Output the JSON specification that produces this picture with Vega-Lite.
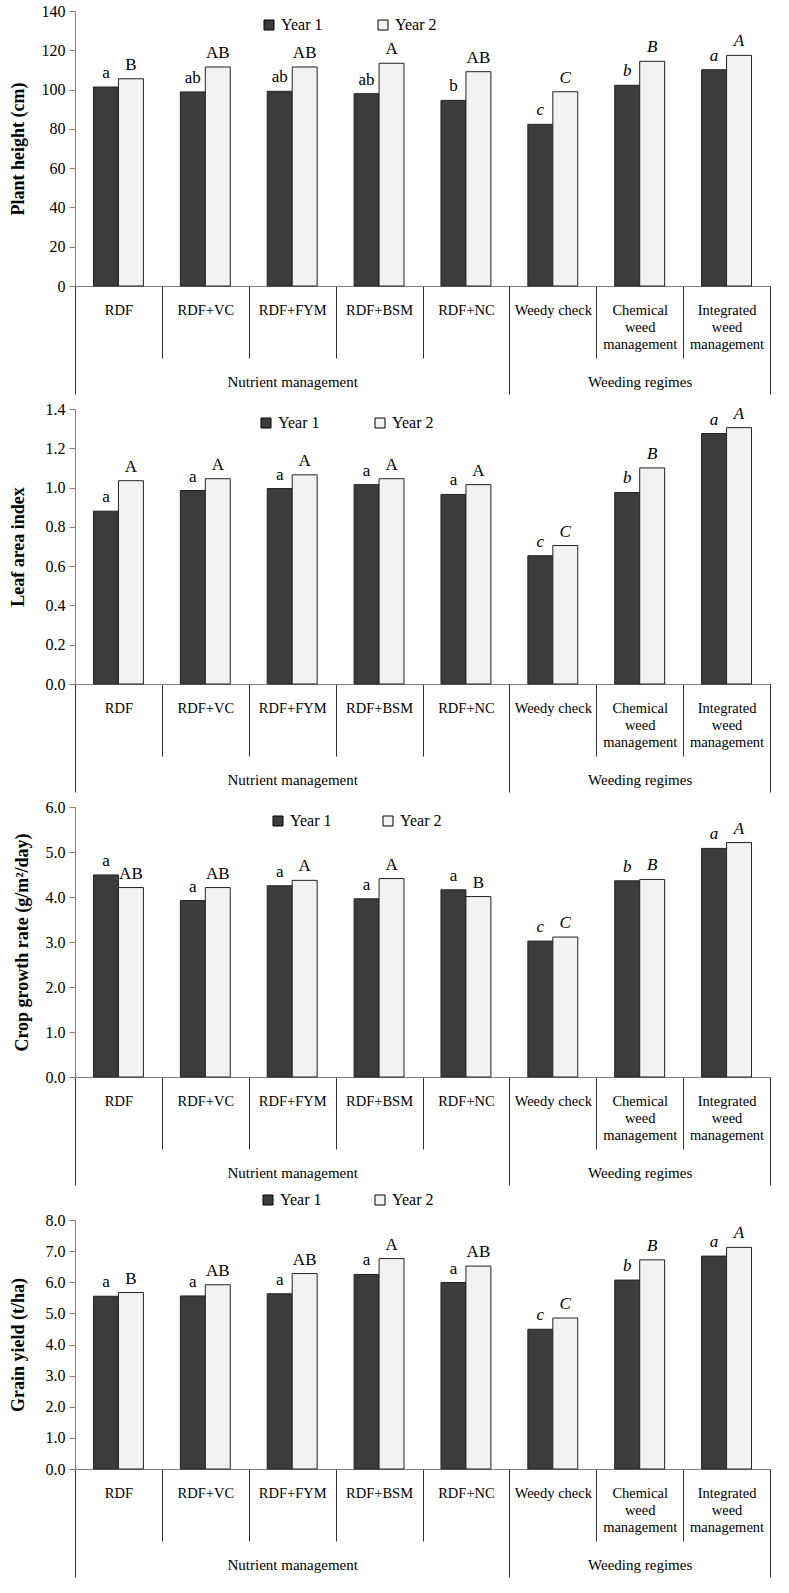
{
  "$schema": "https://vega.github.io/schema/vega-lite/v6.json",
  "background": "white",
  "padding": {"left": 9, "top": 3, "right": 8, "bottom": 4},
  "spacing": 6,
  "config": {
    "font": "Liberation Serif",
    "view": {"stroke": null},
    "axis": {"grid": false, "labelFont": "Liberation Serif", "titleFont": "Liberation Serif", "labelColor": "black", "titleColor": "black", "domainColor": "#808080", "tickColor": "#808080", "labelFontSize": 16},
    "legend": {"labelFont": "Liberation Serif", "labelFontSize": 16, "labelColor": "black"},
    "text": {"font": "Liberation Serif"}
  },
  "resolve": {"scale": {"fill": "independent"}, "legend": {"fill": "independent"}},
  "datasets": {
    "main": [
      {"panel": "PH", "category": "RDF", "group": "Nutrient management", "year": "Year 1", "value": 101.3, "letter": "a"},
      {"panel": "PH", "category": "RDF", "group": "Nutrient management", "year": "Year 2", "value": 105.5, "letter": "B"},
      {"panel": "PH", "category": "RDF+VC", "group": "Nutrient management", "year": "Year 1", "value": 98.8, "letter": "ab"},
      {"panel": "PH", "category": "RDF+VC", "group": "Nutrient management", "year": "Year 2", "value": 111.5, "letter": "AB"},
      {"panel": "PH", "category": "RDF+FYM", "group": "Nutrient management", "year": "Year 1", "value": 99.1, "letter": "ab"},
      {"panel": "PH", "category": "RDF+FYM", "group": "Nutrient management", "year": "Year 2", "value": 111.5, "letter": "AB"},
      {"panel": "PH", "category": "RDF+BSM", "group": "Nutrient management", "year": "Year 1", "value": 97.9, "letter": "ab"},
      {"panel": "PH", "category": "RDF+BSM", "group": "Nutrient management", "year": "Year 2", "value": 113.4, "letter": "A"},
      {"panel": "PH", "category": "RDF+NC", "group": "Nutrient management", "year": "Year 1", "value": 94.5, "letter": "b"},
      {"panel": "PH", "category": "RDF+NC", "group": "Nutrient management", "year": "Year 2", "value": 109.1, "letter": "AB"},
      {"panel": "PH", "category": "Weedy check", "group": "Weeding regimes", "year": "Year 1", "value": 82.3, "letter": "c"},
      {"panel": "PH", "category": "Weedy check", "group": "Weeding regimes", "year": "Year 2", "value": 98.9, "letter": "C"},
      {"panel": "PH", "category": "Chemical weed management", "group": "Weeding regimes", "year": "Year 1", "value": 102.2, "letter": "b"},
      {"panel": "PH", "category": "Chemical weed management", "group": "Weeding regimes", "year": "Year 2", "value": 114.4, "letter": "B"},
      {"panel": "PH", "category": "Integrated weed management", "group": "Weeding regimes", "year": "Year 1", "value": 110.1, "letter": "a"},
      {"panel": "PH", "category": "Integrated weed management", "group": "Weeding regimes", "year": "Year 2", "value": 117.4, "letter": "A"},

      {"panel": "LAI", "category": "RDF", "group": "Nutrient management", "year": "Year 1", "value": 0.88, "letter": "a"},
      {"panel": "LAI", "category": "RDF", "group": "Nutrient management", "year": "Year 2", "value": 1.035, "letter": "A"},
      {"panel": "LAI", "category": "RDF+VC", "group": "Nutrient management", "year": "Year 1", "value": 0.985, "letter": "a"},
      {"panel": "LAI", "category": "RDF+VC", "group": "Nutrient management", "year": "Year 2", "value": 1.045, "letter": "A"},
      {"panel": "LAI", "category": "RDF+FYM", "group": "Nutrient management", "year": "Year 1", "value": 0.995, "letter": "a"},
      {"panel": "LAI", "category": "RDF+FYM", "group": "Nutrient management", "year": "Year 2", "value": 1.065, "letter": "A"},
      {"panel": "LAI", "category": "RDF+BSM", "group": "Nutrient management", "year": "Year 1", "value": 1.015, "letter": "a"},
      {"panel": "LAI", "category": "RDF+BSM", "group": "Nutrient management", "year": "Year 2", "value": 1.045, "letter": "A"},
      {"panel": "LAI", "category": "RDF+NC", "group": "Nutrient management", "year": "Year 1", "value": 0.965, "letter": "a"},
      {"panel": "LAI", "category": "RDF+NC", "group": "Nutrient management", "year": "Year 2", "value": 1.015, "letter": "A"},
      {"panel": "LAI", "category": "Weedy check", "group": "Weeding regimes", "year": "Year 1", "value": 0.653, "letter": "c"},
      {"panel": "LAI", "category": "Weedy check", "group": "Weeding regimes", "year": "Year 2", "value": 0.705, "letter": "C"},
      {"panel": "LAI", "category": "Chemical weed management", "group": "Weeding regimes", "year": "Year 1", "value": 0.975, "letter": "b"},
      {"panel": "LAI", "category": "Chemical weed management", "group": "Weeding regimes", "year": "Year 2", "value": 1.1, "letter": "B"},
      {"panel": "LAI", "category": "Integrated weed management", "group": "Weeding regimes", "year": "Year 1", "value": 1.275, "letter": "a"},
      {"panel": "LAI", "category": "Integrated weed management", "group": "Weeding regimes", "year": "Year 2", "value": 1.305, "letter": "A"},

      {"panel": "CGR", "category": "RDF", "group": "Nutrient management", "year": "Year 1", "value": 4.49, "letter": "a"},
      {"panel": "CGR", "category": "RDF", "group": "Nutrient management", "year": "Year 2", "value": 4.21, "letter": "AB"},
      {"panel": "CGR", "category": "RDF+VC", "group": "Nutrient management", "year": "Year 1", "value": 3.92, "letter": "a"},
      {"panel": "CGR", "category": "RDF+VC", "group": "Nutrient management", "year": "Year 2", "value": 4.21, "letter": "AB"},
      {"panel": "CGR", "category": "RDF+FYM", "group": "Nutrient management", "year": "Year 1", "value": 4.25, "letter": "a"},
      {"panel": "CGR", "category": "RDF+FYM", "group": "Nutrient management", "year": "Year 2", "value": 4.37, "letter": "A"},
      {"panel": "CGR", "category": "RDF+BSM", "group": "Nutrient management", "year": "Year 1", "value": 3.96, "letter": "a"},
      {"panel": "CGR", "category": "RDF+BSM", "group": "Nutrient management", "year": "Year 2", "value": 4.41, "letter": "A"},
      {"panel": "CGR", "category": "RDF+NC", "group": "Nutrient management", "year": "Year 1", "value": 4.16, "letter": "a"},
      {"panel": "CGR", "category": "RDF+NC", "group": "Nutrient management", "year": "Year 2", "value": 4.01, "letter": "B"},
      {"panel": "CGR", "category": "Weedy check", "group": "Weeding regimes", "year": "Year 1", "value": 3.02, "letter": "c"},
      {"panel": "CGR", "category": "Weedy check", "group": "Weeding regimes", "year": "Year 2", "value": 3.11, "letter": "C"},
      {"panel": "CGR", "category": "Chemical weed management", "group": "Weeding regimes", "year": "Year 1", "value": 4.36, "letter": "b"},
      {"panel": "CGR", "category": "Chemical weed management", "group": "Weeding regimes", "year": "Year 2", "value": 4.39, "letter": "B"},
      {"panel": "CGR", "category": "Integrated weed management", "group": "Weeding regimes", "year": "Year 1", "value": 5.08, "letter": "a"},
      {"panel": "CGR", "category": "Integrated weed management", "group": "Weeding regimes", "year": "Year 2", "value": 5.21, "letter": "A"},

      {"panel": "GY", "category": "RDF", "group": "Nutrient management", "year": "Year 1", "value": 5.55, "letter": "a"},
      {"panel": "GY", "category": "RDF", "group": "Nutrient management", "year": "Year 2", "value": 5.67, "letter": "B"},
      {"panel": "GY", "category": "RDF+VC", "group": "Nutrient management", "year": "Year 1", "value": 5.56, "letter": "a"},
      {"panel": "GY", "category": "RDF+VC", "group": "Nutrient management", "year": "Year 2", "value": 5.92, "letter": "AB"},
      {"panel": "GY", "category": "RDF+FYM", "group": "Nutrient management", "year": "Year 1", "value": 5.63, "letter": "a"},
      {"panel": "GY", "category": "RDF+FYM", "group": "Nutrient management", "year": "Year 2", "value": 6.28, "letter": "AB"},
      {"panel": "GY", "category": "RDF+BSM", "group": "Nutrient management", "year": "Year 1", "value": 6.25, "letter": "a"},
      {"panel": "GY", "category": "RDF+BSM", "group": "Nutrient management", "year": "Year 2", "value": 6.76, "letter": "A"},
      {"panel": "GY", "category": "RDF+NC", "group": "Nutrient management", "year": "Year 1", "value": 5.99, "letter": "a"},
      {"panel": "GY", "category": "RDF+NC", "group": "Nutrient management", "year": "Year 2", "value": 6.52, "letter": "AB"},
      {"panel": "GY", "category": "Weedy check", "group": "Weeding regimes", "year": "Year 1", "value": 4.49, "letter": "c"},
      {"panel": "GY", "category": "Weedy check", "group": "Weeding regimes", "year": "Year 2", "value": 4.85, "letter": "C"},
      {"panel": "GY", "category": "Chemical weed management", "group": "Weeding regimes", "year": "Year 1", "value": 6.07, "letter": "b"},
      {"panel": "GY", "category": "Chemical weed management", "group": "Weeding regimes", "year": "Year 2", "value": 6.72, "letter": "B"},
      {"panel": "GY", "category": "Integrated weed management", "group": "Weeding regimes", "year": "Year 1", "value": 6.84, "letter": "a"},
      {"panel": "GY", "category": "Integrated weed management", "group": "Weeding regimes", "year": "Year 2", "value": 7.12, "letter": "A"}
    ],
    "groups": [
      {"group": "Nutrient management", "mid": 2.5},
      {"group": "Weeding regimes", "mid": 6.5}
    ]
  },
  "vconcat": [
    {
      "width": 695, "height": 275,
      "resolve": {"scale": {"x": "independent"}, "axis": {"x": "independent"}},
      "layer": [
        {
          "data": {"name": "main"},
          "transform": [{"filter": "datum.panel == 'PH'"}],
          "encoding": {
            "x": {"field": "category", "type": "nominal", "sort": null, "scale": {"paddingInner": 0, "paddingOuter": 0},
              "axis": {"orient": "bottom", "title": null, "labelAngle": 0, "tickBand": "extent", "tickSize": 72, "tickColor": "#333", "labelPadding": -55, "labelFontSize": 14.5, "labelLineHeight": 17, "labelExpr": "indexof(datum.label, ' weed ') > 0 ? split(datum.label, ' ') : datum.label"}},
            "xOffset": {"field": "year", "type": "nominal", "sort": null, "scale": {"paddingInner": 0, "paddingOuter": 0.74}},
            "y": {"field": "value", "type": "quantitative", "scale": {"domain": [0, 140], "nice": false},
              "axis": {"title": "Plant height (cm)", "values": [0, 20, 40, 60, 80, 100, 120, 140], "format": "d", "tickSize": 6, "labelPadding": 4, "titleFontSize": 18, "titleFontWeight": "bold", "titlePadding": 14}}
          },
          "layer": [
            {"mark": {"type": "bar", "stroke": "#222", "strokeWidth": 1},
             "encoding": {"fill": {"field": "year", "type": "nominal", "scale": {"domain": ["Year 1", "Year 2"], "range": ["#3c3c3c", "#f2f2f2"]},
               "legend": {"orient": "none", "legendX": 186, "legendY": 6, "direction": "horizontal", "title": null, "symbolType": "square", "symbolSize": 100, "symbolStrokeColor": "black", "symbolStrokeWidth": 1, "columnPadding": 52, "labelOffset": 4}}}},
            {"mark": {"type": "text", "baseline": "bottom", "dy": -5, "fontSize": 17, "fontStyle": {"expr": "datum.group == 'Weeding regimes' ? 'italic' : 'normal'"}},
             "encoding": {"text": {"field": "letter"}}}
          ]
        },
        {
          "data": {"name": "groups"},
          "mark": {"type": "text", "opacity": 0},
          "encoding": {
            "x": {"field": "mid", "type": "quantitative", "scale": {"domain": [0, 8], "nice": false, "zero": false},
              "axis": {"orient": "bottom", "title": null, "domain": false, "values": [0, 2.5, 5, 6.5, 8], "tickSize": 108, "tickColor": "#333", "tickOpacity": {"condition": {"test": "datum.value == 2.5 || datum.value == 6.5", "value": 0}, "value": 1}, "labelExpr": "datum.value == 2.5 ? 'Nutrient management' : datum.value == 6.5 ? 'Weeding regimes' : ''", "labelPadding": -20, "labelFontSize": 15, "labelFlush": false, "labelOverlap": false, "labelBound": false}},
            "text": {"field": "group"}
          }
        }
      ]
    },
    {
      "width": 695, "height": 275,
      "resolve": {"scale": {"x": "independent"}, "axis": {"x": "independent"}},
      "layer": [
        {
          "data": {"name": "main"},
          "transform": [{"filter": "datum.panel == 'LAI'"}],
          "encoding": {
            "x": {"field": "category", "type": "nominal", "sort": null, "scale": {"paddingInner": 0, "paddingOuter": 0},
              "axis": {"orient": "bottom", "title": null, "labelAngle": 0, "tickBand": "extent", "tickSize": 72, "tickColor": "#333", "labelPadding": -55, "labelFontSize": 14.5, "labelLineHeight": 17, "labelExpr": "indexof(datum.label, ' weed ') > 0 ? split(datum.label, ' ') : datum.label"}},
            "xOffset": {"field": "year", "type": "nominal", "sort": null, "scale": {"paddingInner": 0, "paddingOuter": 0.74}},
            "y": {"field": "value", "type": "quantitative", "scale": {"domain": [0, 1.4], "nice": false},
              "axis": {"title": "Leaf area index", "values": [0, 0.2, 0.4, 0.6, 0.8, 1.0, 1.2, 1.4], "format": ".1f", "tickSize": 6, "labelPadding": 4, "titleFontSize": 18, "titleFontWeight": "bold", "titlePadding": 18}}
          },
          "layer": [
            {"mark": {"type": "bar", "stroke": "#222", "strokeWidth": 1},
             "encoding": {"fill": {"field": "year", "type": "nominal", "scale": {"domain": ["Year 1", "Year 2"], "range": ["#3c3c3c", "#f2f2f2"]},
               "legend": {"orient": "none", "legendX": 183, "legendY": 6, "direction": "horizontal", "title": null, "symbolType": "square", "symbolSize": 100, "symbolStrokeColor": "black", "symbolStrokeWidth": 1, "columnPadding": 52, "labelOffset": 4}}}},
            {"mark": {"type": "text", "baseline": "bottom", "dy": -5, "fontSize": 17, "fontStyle": {"expr": "datum.group == 'Weeding regimes' ? 'italic' : 'normal'"}},
             "encoding": {"text": {"field": "letter"}}}
          ]
        },
        {
          "data": {"name": "groups"},
          "mark": {"type": "text", "opacity": 0},
          "encoding": {
            "x": {"field": "mid", "type": "quantitative", "scale": {"domain": [0, 8], "nice": false, "zero": false},
              "axis": {"orient": "bottom", "title": null, "domain": false, "values": [0, 2.5, 5, 6.5, 8], "tickSize": 108, "tickColor": "#333", "tickOpacity": {"condition": {"test": "datum.value == 2.5 || datum.value == 6.5", "value": 0}, "value": 1}, "labelExpr": "datum.value == 2.5 ? 'Nutrient management' : datum.value == 6.5 ? 'Weeding regimes' : ''", "labelPadding": -20, "labelFontSize": 15, "labelFlush": false, "labelOverlap": false, "labelBound": false}},
            "text": {"field": "group"}
          }
        }
      ]
    },
    {
      "width": 695, "height": 270,
      "resolve": {"scale": {"x": "independent"}, "axis": {"x": "independent"}},
      "layer": [
        {
          "data": {"name": "main"},
          "transform": [{"filter": "datum.panel == 'CGR'"}],
          "encoding": {
            "x": {"field": "category", "type": "nominal", "sort": null, "scale": {"paddingInner": 0, "paddingOuter": 0},
              "axis": {"orient": "bottom", "title": null, "labelAngle": 0, "tickBand": "extent", "tickSize": 72, "tickColor": "#333", "labelPadding": -55, "labelFontSize": 14.5, "labelLineHeight": 17, "labelExpr": "indexof(datum.label, ' weed ') > 0 ? split(datum.label, ' ') : datum.label"}},
            "xOffset": {"field": "year", "type": "nominal", "sort": null, "scale": {"paddingInner": 0, "paddingOuter": 0.74}},
            "y": {"field": "value", "type": "quantitative", "scale": {"domain": [0, 6], "nice": false},
              "axis": {"title": "Crop growth rate (g/m²/day)", "values": [0, 1, 2, 3, 4, 5, 6], "format": ".1f", "tickSize": 6, "labelPadding": 4, "titleFontSize": 18, "titleFontWeight": "bold", "titlePadding": 14}}
          },
          "layer": [
            {"mark": {"type": "bar", "stroke": "#222", "strokeWidth": 1},
             "encoding": {"fill": {"field": "year", "type": "nominal", "scale": {"domain": ["Year 1", "Year 2"], "range": ["#3c3c3c", "#f2f2f2"]},
               "legend": {"orient": "none", "legendX": 195, "legendY": 6, "direction": "horizontal", "title": null, "symbolType": "square", "symbolSize": 100, "symbolStrokeColor": "black", "symbolStrokeWidth": 1, "columnPadding": 48, "labelOffset": 4}}}},
            {"mark": {"type": "text", "baseline": "bottom", "dy": -5, "fontSize": 17, "fontStyle": {"expr": "datum.group == 'Weeding regimes' ? 'italic' : 'normal'"}},
             "encoding": {"text": {"field": "letter"}}}
          ]
        },
        {
          "data": {"name": "groups"},
          "mark": {"type": "text", "opacity": 0},
          "encoding": {
            "x": {"field": "mid", "type": "quantitative", "scale": {"domain": [0, 8], "nice": false, "zero": false},
              "axis": {"orient": "bottom", "title": null, "domain": false, "values": [0, 2.5, 5, 6.5, 8], "tickSize": 108, "tickColor": "#333", "tickOpacity": {"condition": {"test": "datum.value == 2.5 || datum.value == 6.5", "value": 0}, "value": 1}, "labelExpr": "datum.value == 2.5 ? 'Nutrient management' : datum.value == 6.5 ? 'Weeding regimes' : ''", "labelPadding": -20, "labelFontSize": 15, "labelFlush": false, "labelOverlap": false, "labelBound": false}},
            "text": {"field": "group"}
          }
        }
      ]
    },
    {
      "width": 695, "height": 249,
      "resolve": {"scale": {"x": "independent"}, "axis": {"x": "independent"}},
      "layer": [
        {
          "data": {"name": "main"},
          "transform": [{"filter": "datum.panel == 'GY'"}],
          "encoding": {
            "x": {"field": "category", "type": "nominal", "sort": null, "scale": {"paddingInner": 0, "paddingOuter": 0},
              "axis": {"orient": "bottom", "title": null, "labelAngle": 0, "tickBand": "extent", "tickSize": 72, "tickColor": "#333", "labelPadding": -55, "labelFontSize": 14.5, "labelLineHeight": 17, "labelExpr": "indexof(datum.label, ' weed ') > 0 ? split(datum.label, ' ') : datum.label"}},
            "xOffset": {"field": "year", "type": "nominal", "sort": null, "scale": {"paddingInner": 0, "paddingOuter": 0.74}},
            "y": {"field": "value", "type": "quantitative", "scale": {"domain": [0, 8], "nice": false},
              "axis": {"title": "Grain yield (t/ha)", "values": [0, 1, 2, 3, 4, 5, 6, 7, 8], "format": ".1f", "tickSize": 6, "labelPadding": 4, "titleFontSize": 18, "titleFontWeight": "bold", "titlePadding": 18}}
          },
          "layer": [
            {"mark": {"type": "bar", "stroke": "#222", "strokeWidth": 1},
             "encoding": {"fill": {"field": "year", "type": "nominal", "scale": {"domain": ["Year 1", "Year 2"], "range": ["#3c3c3c", "#f2f2f2"]},
               "legend": {"orient": "none", "legendX": 185, "legendY": -28, "direction": "horizontal", "title": null, "symbolType": "square", "symbolSize": 100, "symbolStrokeColor": "black", "symbolStrokeWidth": 1, "columnPadding": 50, "labelOffset": 4}}}},
            {"mark": {"type": "text", "baseline": "bottom", "dy": -5, "fontSize": 17, "fontStyle": {"expr": "datum.group == 'Weeding regimes' ? 'italic' : 'normal'"}},
             "encoding": {"text": {"field": "letter"}}}
          ]
        },
        {
          "data": {"name": "groups"},
          "mark": {"type": "text", "opacity": 0},
          "encoding": {
            "x": {"field": "mid", "type": "quantitative", "scale": {"domain": [0, 8], "nice": false, "zero": false},
              "axis": {"orient": "bottom", "title": null, "domain": false, "values": [0, 2.5, 5, 6.5, 8], "tickSize": 108, "tickColor": "#333", "tickOpacity": {"condition": {"test": "datum.value == 2.5 || datum.value == 6.5", "value": 0}, "value": 1}, "labelExpr": "datum.value == 2.5 ? 'Nutrient management' : datum.value == 6.5 ? 'Weeding regimes' : ''", "labelPadding": -20, "labelFontSize": 15, "labelFlush": false, "labelOverlap": false, "labelBound": false}},
            "text": {"field": "group"}
          }
        }
      ]
    }
  ]
}
